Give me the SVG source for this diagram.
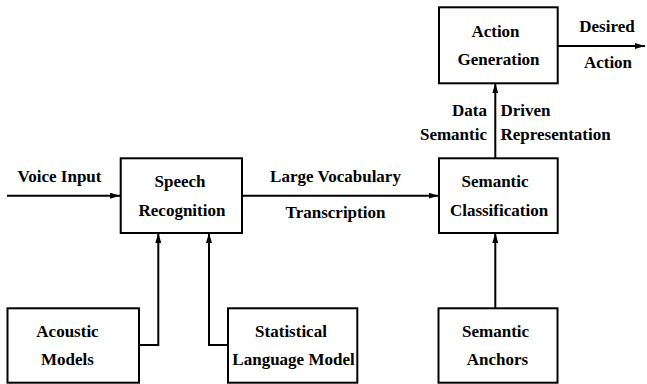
<svg xmlns="http://www.w3.org/2000/svg" width="647" height="384" viewBox="0 0 647 384">
<style>
.box{fill:#fff;stroke:#000;stroke-width:2}
.ln{fill:none;stroke:#000;stroke-width:2}
.c{text-anchor:middle}
.r{text-anchor:end}
</style>
<defs>
<marker id="ah" viewBox="0 0 10 6" refX="10" refY="3" markerWidth="10" markerHeight="6" markerUnits="userSpaceOnUse" orient="auto">
<path d="M0,0 L10,3 L0,6 Z" fill="#000"/>
</marker>
</defs>
<rect width="647" height="384" fill="#fff"/>
<g font-family="'Liberation Serif', 'Times New Roman', Times, serif" font-weight="bold" font-size="17" fill="#000">
<g id="connectors">
<line class="ln" x1="7" y1="195.7" x2="120" y2="195.7" marker-end="url(#ah)"/>
<line class="ln" x1="242" y1="195.7" x2="438.5" y2="195.7" marker-end="url(#ah)"/>
<polyline class="ln" points="139,345 158.3,345 158.3,233" marker-end="url(#ah)"/>
<polyline class="ln" points="228,345 209,345 209,233" marker-end="url(#ah)"/>
<line class="ln" x1="495.3" y1="158.3" x2="495.3" y2="83.3" marker-end="url(#ah)"/>
<line class="ln" x1="495.3" y1="308.3" x2="495.3" y2="233" marker-end="url(#ah)"/>
<line class="ln" x1="558" y1="46" x2="645" y2="46" marker-end="url(#ah)"/>
<text x="59.5" y="182.3" class="c">Voice Input</text>
<text x="335.5" y="182.3" class="c">Large Vocabulary</text>
<text x="335.5" y="218.3" class="c">Transcription</text>
<text x="487" y="115.7" class="r">Data</text>
<text x="487" y="139.5" class="r">Semantic</text>
<text x="500.5" y="115.7">Driven</text>
<text x="500.5" y="139.5">Representation</text>
<text x="607" y="31.7" class="c">Desired</text>
<text x="608" y="68.3" class="c">Action</text>
</g>
<g id="speech-recognition">
<rect class="box" x="120.7" y="158.3" width="121.3" height="74.7"/>
<text x="180" y="186.7" class="c">Speech</text>
<text x="182" y="216" class="c">Recognition</text>
</g>
<g id="acoustic-models">
<rect class="box" x="7.5" y="308.3" width="131.5" height="74.4"/>
<text x="67.5" y="336.7" class="c">Acoustic</text>
<text x="67.5" y="365" class="c">Models</text>
</g>
<g id="statistical-language-model">
<rect class="box" x="228" y="308.3" width="129.3" height="74.4"/>
<text x="291" y="336.7" class="c">Statistical</text>
<text x="293.5" y="365" class="c">Language Model</text>
</g>
<g id="semantic-classification">
<rect class="box" x="439" y="158.3" width="118.7" height="74.7"/>
<text x="495" y="186.7" class="c">Semantic</text>
<text x="499" y="216" class="c">Classification</text>
</g>
<g id="action-generation">
<rect class="box" x="439" y="7.3" width="118.7" height="76"/>
<text x="495.5" y="36.7" class="c">Action</text>
<text x="498.5" y="65" class="c">Generation</text>
</g>
<g id="semantic-anchors">
<rect class="box" x="438.5" y="308.3" width="119" height="74.4"/>
<text x="495.6" y="336.7" class="c">Semantic</text>
<text x="497.5" y="365" class="c">Anchors</text>
</g>
</g>
</svg>
